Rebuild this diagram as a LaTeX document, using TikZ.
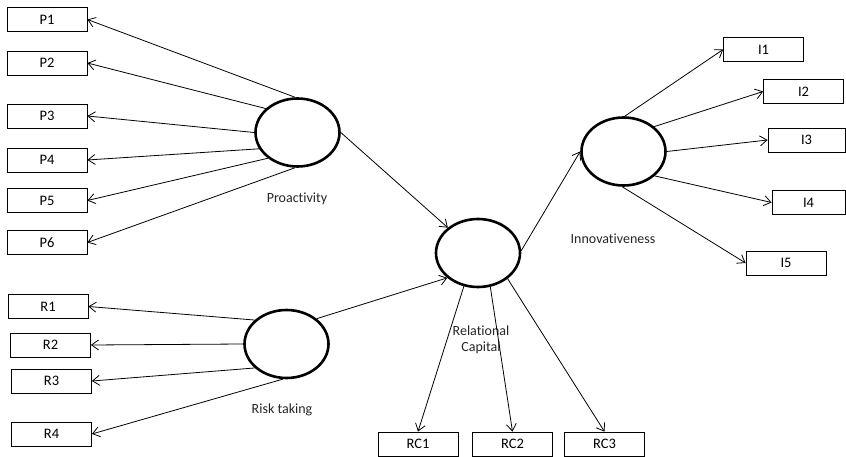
\documentclass[tikz,border=0pt]{standalone}
\usepackage{fontspec}
\setmainfont{Carlito}[Ligatures={NoCommon}]
\usetikzlibrary{arrows.meta,shapes.geometric}
\begin{document}
\begin{tikzpicture}[x=1pt,y=-1pt,
  ind/.style={draw,line width=0.8pt,rectangle,minimum width=80pt,minimum height=24pt,inner sep=0pt,font=\fontsize{14.5}{16}\selectfont},
  lat/.style={draw,line width=2.6pt,ellipse,minimum width=84pt,minimum height=68pt,inner sep=0pt},
  lbl/.style={font=\fontsize{14}{16}\selectfont,text=black!85,align=center,inner sep=0pt},
  arr/.style={line width=0.8pt,-{Straight Barb[length=7pt,width=10pt]}}]
\useasboundingbox (0,0) rectangle (846,457);
% indicators
\node[ind] (P1) at (47,19.5) {P1};
\node[ind] (P2) at (47,63) {P2};
\node[ind] (P3) at (47,116) {P3};
\node[ind] (P4) at (47,160) {P4};
\node[ind] (P5) at (47,200.5) {P5};
\node[ind] (P6) at (47,242.5) {P6};
\node[ind] (R1) at (48,306.5) {R1};
\node[ind] (R2) at (50.5,345) {R2};
\node[ind] (R3) at (51.5,381) {R3};
\node[ind] (R4) at (51.5,434) {R4};
\node[ind] (RC1) at (418,444) {RC1};
\node[ind] (RC2) at (512.5,444) {RC2};
\node[ind] (RC3) at (604.5,444) {RC3};
\node[ind] (I1) at (763.5,49.5) {I1};
\node[ind] (I2) at (803.5,91.5) {I2};
\node[ind,minimum width=77pt] (I3) at (806.5,140) {I3};
\node[ind,minimum width=73pt] (I4) at (808.5,202.5) {I4};
\node[ind] (I5) at (786,263) {I5};
% latent variables
\node[lat] (pro) at (297.5,132.5) {};
\node[lat] (risk) at (286.5,344) {};
\node[lat] (rc) at (478,253) {};
\node[lat] (inno) at (623.5,151.5) {};
% labels
\node[lbl] (lpro) at (297,199) {Proactivity};
\node[lbl] (lrisk) at (282,410) {Risk taking};
\node[lbl] (lrc) at (481,340) {Relational\\Capital};
\node[lbl] (linno) at (613,239) {Innovativeness};
% arrows
\draw[arr] (pro.94) -- (P1.east);
\draw[arr] (pro.143) -- (P2.east);
\draw[arr] (pro.180) -- (P3.east);
\draw[arr] (pro.203) -- (P4.east);
\draw[arr] (pro.221) -- (P5.east);
\draw[arr] (pro.266) -- (P6.east);
\draw[arr] (risk.143) -- (R1.east);
\draw[arr] (risk.180) -- (R2.east);
\draw[arr] (risk.217) -- (R3.east);
\draw[arr] (risk.264) -- (R4.east);
\draw[arr] (pro.0) -- (rc.140);
\draw[arr] (risk.40) -- (rc.219);
\draw[arr] (rc.3) -- (inno.180);
\draw[arr] (rc.247) -- (RC1.north);
\draw[arr] (rc.290) -- (RC2.north);
\draw[arr] (rc.319) -- (RC3.north);
\draw[arr] (inno.88) -- (I1.west);
\draw[arr] (inno.39) -- (I2.west);
\draw[arr] (inno.0) -- (I3.west);
\draw[arr] (inno.322) -- (I4.west);
\draw[arr] (inno.268) -- (I5.west);
\end{tikzpicture}
\end{document}
